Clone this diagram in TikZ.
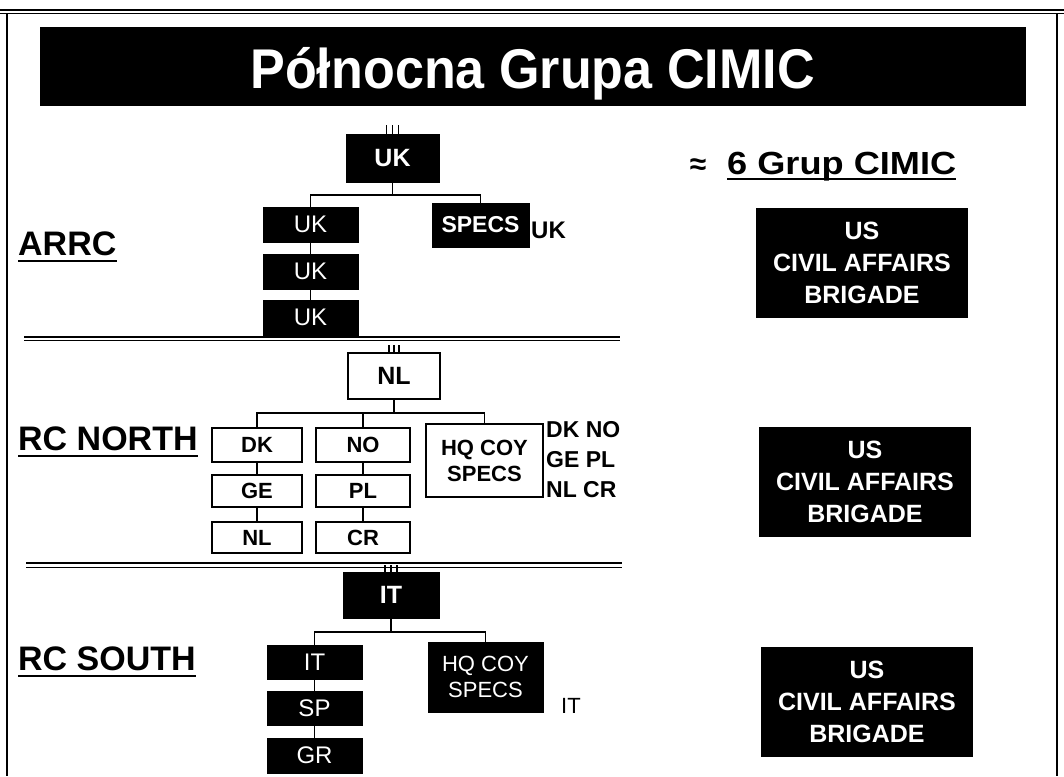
\documentclass[tikz,border=0pt]{standalone}
\usepackage{fontspec}
\usepackage{graphicx}
\setmainfont{Liberation Sans}
\begin{document}
\begin{tikzpicture}[x=1pt,y=-1pt,
  blk/.style={fill=black,draw=black,text=white,inner sep=0pt,align=center},
  wht/.style={fill=white,draw=black,line width=1.5pt,text=black,inner sep=0pt,align=center},
  sz/.style 2 args={minimum width=#1pt,minimum height=#2pt},
  link/.style={line width=1.5pt},
  tick/.style={line width=1.2pt},
  rule/.style={line width=2.5pt},
  head/.style={font=\bfseries\fontsize{25}{30}\selectfont},
  kid/.style={font=\fontsize{24}{28}\selectfont},
  kidb/.style={font=\bfseries\fontsize{22}{26}\selectfont},
  lbl/.style={inner sep=0pt,anchor=base west,font=\bfseries\fontsize{34}{40}\selectfont},
  us/.style={blk,sz={211}{109},font=\bfseries\fontsize{25}{32}\selectfont}]
\useasboundingbox (0,0) rectangle (1064,776);

% page frame
\draw[line width=1.5pt] (0,10) -- (1064,10);
\draw[line width=1pt] (0,14) -- (1064,14);
\draw[line width=1.2pt] (7,14) -- (7,776);
\draw[line width=1.2pt] (1057,14) -- (1057,776);

% title bar
\node[blk,sz={985}{78}] (bar) at (532.5,66) {};
\node[text=white,inner sep=0pt,anchor=base,font=\bfseries\fontsize{56}{60}\selectfont]
  (title) at (532.5,88) {\scalebox{0.93}[1]{Północna Grupa CIMIC}};

% section rules
\draw[line width=2pt] (24,336.5) -- (620,336.5);
\draw[line width=1pt] (24,340.5) -- (620,340.5);
\draw[line width=2pt] (26,563) -- (622,563);
\draw[line width=1pt] (26,567) -- (622,567);

% section labels
\node[lbl] (arrc) at (18,255) {ARRC};
\node[lbl] (north) at (18,450) {RC NORTH};
\node[lbl] (south) at (18,670) {RC SOUTH};
\foreach \n in {arrc,north,south}
  \draw[rule] ([yshift=-6pt]\n.base west) -- ([yshift=-6pt]\n.base east);

% ---- ARRC ----
\node[blk,sz={93}{48},head] (ukT) at (392.5,158) {UK};
\node[blk,sz={95}{35},kid] (ukA) at (310.5,224.5) {UK};
\node[blk,sz={95}{35},kid] (ukB) at (310.5,271.5) {UK};
\node[blk,sz={95}{35},kid] (ukC) at (310.5,317.5) {UK};
\node[blk,sz={97}{44},font=\bfseries\fontsize{23}{28}\selectfont] (specs) at (480.5,225) {SPECS};
\node[inner sep=0pt,anchor=west,font=\bfseries\fontsize{24}{28}\selectfont] (specsuk) at (531,230) {UK};
\foreach \dx in {-6,0,6} \draw[tick] ([xshift=\dx pt]ukT.north) -- ++(0,-9);
\draw[link] (ukT.south) -- ++(0,13) coordinate (ukBar);
\draw[link] (ukA.north) |- (ukBar) -| (specs.north);
\draw[link] (ukA.south) -- (ukB.north);
\draw[link] (ukB.south) -- (ukC.north);

% ---- RC NORTH ----
\node[wht,sz={92}{46},head] (nlT) at (394,376) {NL};
\node[wht,sz={90}{34},kidb] (dk) at (257,445) {DK};
\node[wht,sz={94}{34},kidb] (no) at (363,445) {NO};
\node[wht,sz={90}{32},kidb] (ge) at (257,491) {GE};
\node[wht,sz={94}{32},kidb] (pl) at (363,491) {PL};
\node[wht,sz={90}{31},kidb] (nlB) at (257,537.5) {NL};
\node[wht,sz={94}{31},kidb] (cr) at (363,537.5) {CR};
\node[wht,sz={117}{73},kidb] (hqN) at (484.5,460.5) {HQ COY\\SPECS};
\node[inner sep=0pt,anchor=west,align=left,font=\bfseries\fontsize{23}{30}\selectfont]
  (nations) at (546,460) {DK NO\\GE PL\\NL CR};
\foreach \dx in {-5,0,5} \draw[tick] ([xshift=\dx pt]nlT.north) -- ++(0,-7);
\draw[link] (nlT.south) -- ++(0,13) coordinate (nlBar);
\draw[link] (dk.north) |- (nlBar) -| (hqN.north);
\draw[link] (no.north) -- (no.north |- nlBar);
\draw[link] (dk.south) -- (ge.north);
\draw[link] (ge.south) -- (nlB.north);
\draw[link] (no.south) -- (pl.north);
\draw[link] (pl.south) -- (cr.north);

% ---- RC SOUTH ----
\node[blk,sz={96}{46},head] (itT) at (391,595) {IT};
\node[blk,sz={95}{34},kid] (itA) at (314.5,662) {IT};
\node[blk,sz={95}{34},kid] (sp) at (314.5,708) {SP};
\node[blk,sz={95}{35},kid] (gr) at (314.5,755.5) {GR};
\node[blk,sz={115}{70},font=\fontsize{22}{26}\selectfont] (hqS) at (485.5,677) {HQ COY\\SPECS};
\node[inner sep=0pt,anchor=west,font=\fontsize{22}{26}\selectfont] (hqit) at (561,706) {IT};
\foreach \dx in {-6,0,6} \draw[tick] ([xshift=\dx pt]itT.north) -- ++(0,-7);
\draw[link] (itT.south) -- ++(0,14) coordinate (itBar);
\draw[link] (itA.north) |- (itBar) -| (hqS.north);
\draw[link] (itA.south) -- (sp.north);
\draw[link] (sp.south) -- (gr.north);

% ---- right column ----
\node[inner sep=0pt,anchor=base,font=\bfseries\fontsize{30}{34}\selectfont] (approx) at (698,174) {≈};
\node[inner sep=0pt,anchor=base west,font=\bfseries\fontsize{32}{36}\selectfont]
  (groups) at (727,174) {\scalebox{1.13}[1]{6 Grup CIMIC}};
\draw[rule] ([yshift=-5pt]groups.base west) -- ([yshift=-5pt]groups.base east);
\node[us] (usA) at (862,262.5) {US\\CIVIL AFFAIRS\\BRIGADE};
\node[us] (usB) at (865,481.5) {US\\CIVIL AFFAIRS\\BRIGADE};
\node[us] (usC) at (867,702) {US\\CIVIL AFFAIRS\\BRIGADE};
\end{tikzpicture}
\end{document}
